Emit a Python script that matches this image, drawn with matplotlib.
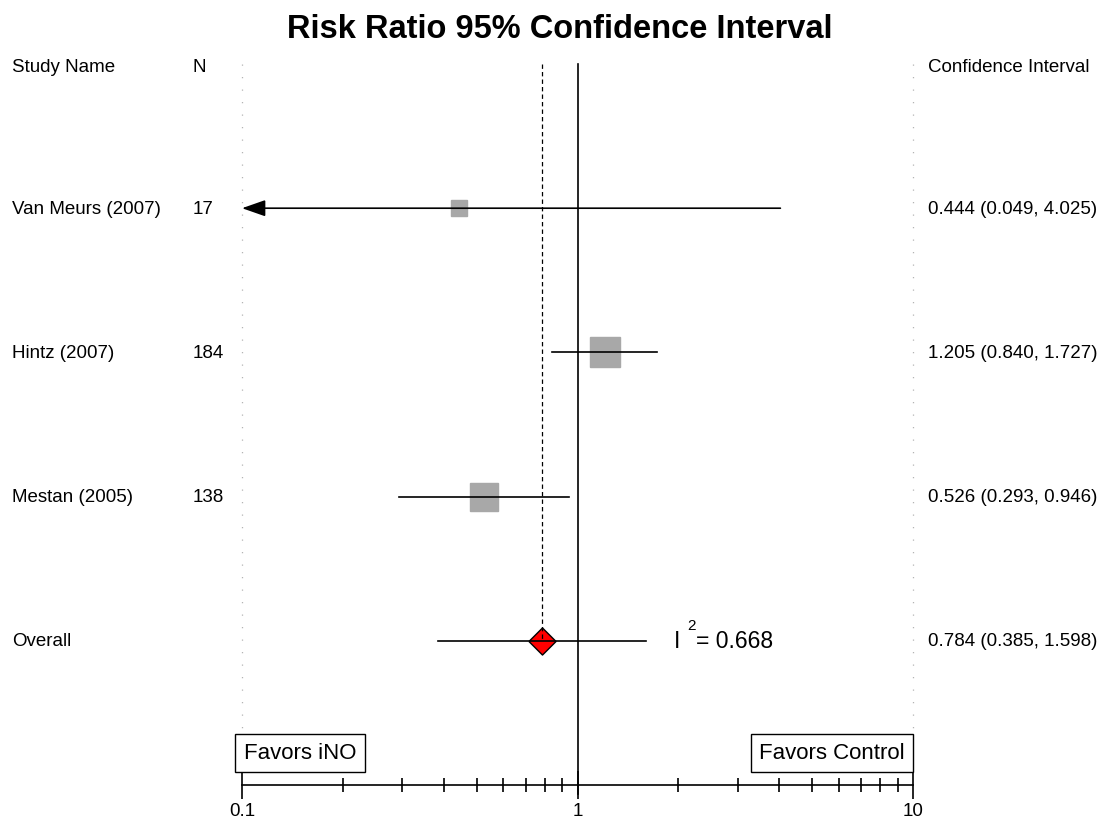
import matplotlib.pyplot as plt
from matplotlib import transforms
from matplotlib.ticker import NullFormatter

plt.rcParams["font.family"] = ["Liberation Sans", "DejaVu Sans"]

# per-study results (risk ratio with 95% CI)
STUDIES = ["Van Meurs (2007)", "Hintz (2007)", "Mestan (2005)"]
N_TOTAL = [17, 184, 138]
RISK_RATIO = [0.444, 1.205, 0.526]
CI_LOWER = [0.049, 0.840, 0.293]
CI_UPPER = [4.025, 1.727, 0.946]

# pooled estimate
OVERALL_RR = 0.784
OVERALL_LOWER = 0.385
OVERALL_UPPER = 1.598
I_SQUARED = 0.668

X_TICKS = [0.1, 1, 10]
X_TICK_LABELS = ["0.1", "1", "10"]

# box sizes (pt) scale with study weight
BOX_SIZE = [11.5, 21.0, 19.5]
BOX_GREY = "#a8a8a8"
DOT_GREY = "#b4b4b4"

W, H = 1108, 820


def fx(px):
    return px / W


def fy(py):
    return 1 - py / H


fig = plt.figure(figsize=(W / 100, H / 100), dpi=100)
fig.patch.set_facecolor("white")
ax = fig.add_axes([fx(242), fy(786), fx(913) - fx(242), fy(65) - fy(786)])
ax.set_xscale("log")
xmin, xmax = X_TICKS[0], X_TICKS[-1]
ax.set_xlim(xmin, xmax)
ax.set_ylim(5.0, 0.0)

rows = list(range(1, len(STUDIES) + 1))
overall_row = len(STUDIES) + 1

# reference lines
for xv in (xmin, xmax):
    ax.plot([xv, xv], [0, 4.67], color=DOT_GREY, lw=0.9,
            ls=(0, (1, 9)), clip_on=False, zorder=1)
ax.plot([1, 1], [0, 5.06], color="black", lw=1.2, clip_on=False, zorder=4)
ax.plot([OVERALL_RR, OVERALL_RR], [0, overall_row], color="black", lw=0.9,
        ls=(0, (3.5, 2.5)), zorder=6)

# studies
for row, rr, lo, hi, size in zip(rows, RISK_RATIO, CI_LOWER, CI_UPPER, BOX_SIZE):
    ax.plot([rr], [row], marker="s", ms=size, color=BOX_GREY, mec=BOX_GREY,
            ls="none", zorder=2)
    if lo < xmin:
        ax.annotate("", xy=(xmin, row), xytext=(hi, row),
                    arrowprops=dict(arrowstyle="-|>,head_length=1.0,head_width=0.35",
                                    mutation_scale=14.4, color="black", lw=1.2,
                                    shrinkA=0, shrinkB=0),
                    zorder=3)
    else:
        ax.plot([lo, hi], [row, row], color="black", lw=1.2, zorder=3)

# overall diamond
ax.plot([OVERALL_RR], [overall_row],
        marker=[(-1, 0), (0, 1), (1, 0), (0, -1), (-1, 0)], ms=19.5,
        mfc="#ff0000", mec="black", mew=1.0, ls="none", zorder=3)
ax.plot([OVERALL_LOWER, OVERALL_UPPER], [overall_row, overall_row],
        color="black", lw=1.2, zorder=5)

# axis styling
for side in ("top", "right", "left"):
    ax.spines[side].set_visible(False)
ax.spines["bottom"].set_linewidth(1.2)
ax.set_yticks([])
ax.set_xticks(X_TICKS)
ax.set_xticklabels(X_TICK_LABELS)
ax.xaxis.set_minor_formatter(NullFormatter())
ax.tick_params(which="major", direction="inout", length=20, width=1.2,
               labelsize=13.5, pad=2)
ax.tick_params(which="minor", direction="inout", length=10, width=1.2)

# text columns
fig.text(fx(560), fy(30), "Risk Ratio 95% Confidence Interval", ha="center",
         va="center", fontsize=23.5, fontweight="bold")
fig.text(fx(12), fy(67), "Study Name", va="center", fontsize=13.5)
fig.text(fx(193), fy(67), "N", va="center", fontsize=13.5)
fig.text(fx(928), fy(67), "Confidence Interval", va="center", fontsize=13.5)

trans = transforms.blended_transform_factory(fig.transFigure, ax.transData)
for row, name, n, rr, lo, hi in zip(rows, STUDIES, N_TOTAL, RISK_RATIO,
                                    CI_LOWER, CI_UPPER):
    ax.text(fx(12), row, name, transform=trans, va="center", fontsize=13.5)
    ax.text(fx(193), row, str(n), transform=trans, va="center", fontsize=13.5)
    ax.text(fx(928), row, f"{rr:.3f} ({lo:.3f}, {hi:.3f})", transform=trans,
            va="center", fontsize=13.5)
ax.text(fx(12), overall_row, "Overall", transform=trans, va="center", fontsize=13.5)
ax.text(fx(928), overall_row,
        f"{OVERALL_RR:.3f} ({OVERALL_LOWER:.3f}, {OVERALL_UPPER:.3f})",
        transform=trans, va="center", fontsize=13.5)

# heterogeneity
fig.text(fx(674), fy(641), "I", va="center", fontsize=16.5)
fig.text(fx(687), fy(626), "2", va="center", fontsize=11)
fig.text(fx(696), fy(641), f"= {I_SQUARED:.3f}", va="center", fontsize=16.5)

# direction labels
box = dict(boxstyle="square,pad=0.38", fc="white", ec="black", lw=1.0)
fig.text(fx(300), fy(754), "Favors iNO", ha="center", va="center",
         fontsize=16, bbox=box)
fig.text(fx(832), fy(754), "Favors Control", ha="center", va="center",
         fontsize=16, bbox=box)

fig.savefig("out.png", dpi=100, facecolor="white")
